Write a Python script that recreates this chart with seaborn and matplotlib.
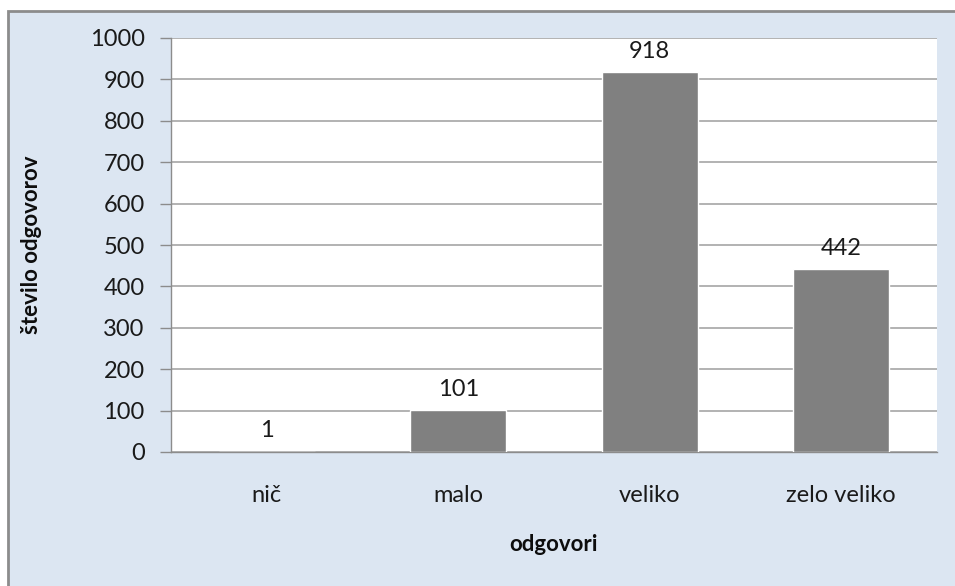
import numpy as np
import pandas as pd
import matplotlib
matplotlib.use("Agg")
import matplotlib.pyplot as plt
from matplotlib.patches import Rectangle
import seaborn as sns

sns.set_style("white")
plt.rcParams['font.family'] = ['Lato', 'DejaVu Sans']

# === data ===
categories = ["nič", "malo", "veliko", "zelo veliko"]
counts = [1, 101, 918, 442]
y_ticks = list(range(0, 1001, 100))

df = pd.DataFrame({"odgovori": categories, "stevilo": counts})

fig = plt.figure(figsize=(9.55, 5.86), dpi=100, facecolor="white")
# light blue chart area with grey frame (behind the axes)
frame = Rectangle((8 / 955, -0.1), 1.2, (586 - 11) / 586 + 0.1,
                  transform=fig.transFigure, facecolor="#dce6f2",
                  edgecolor="#8c8c8c", linewidth=2, zorder=-10)
fig.patches.append(frame)

ax = fig.add_axes([171 / 955, 1 - 452 / 586, (937 - 171) / 955, (452 - 38) / 586])
ax.set_zorder(1)
ax.set_facecolor("white")

sns.barplot(data=df, x="odgovori", y="stevilo", color="#808080",
            saturation=1, width=0.5, ax=ax, zorder=3)

ax.set_ylim(0, 1000)
ax.set_xlim(-0.5, len(categories) - 0.5)
ax.set_yticks(y_ticks)
ax.yaxis.grid(True, color="#a6a6a6", linewidth=1.2, zorder=0)
ax.set_axisbelow(True)

# category ticks sit on the boundaries between groups
ax.set_xticks(np.arange(len(categories)))
ax.set_xticklabels(categories)
ax.set_xticks(np.arange(len(categories) + 1) - 0.5, minor=True)
ax.tick_params(axis="x", which="major", length=0, pad=24, labelsize=17, colors="#1a1a1a")
ax.tick_params(axis="x", which="minor", length=8, width=1, color="#8c8c8c")
ax.tick_params(axis="y", length=8, width=1, color="#8c8c8c", labelsize=17,
               labelcolor="#1a1a1a", pad=11, left=True)

for s in ["top", "right"]:
    ax.spines[s].set_visible(False)
for s in ["left", "bottom"]:
    ax.spines[s].set_color("#8c8c8c")
    ax.spines[s].set_linewidth(1)

for i, v in enumerate(counts):
    ax.text(i, v + 25, str(v), ha="center", va="bottom", fontsize=17, color="#1a1a1a")

ax.set_xlabel("odgovori", fontsize=16, fontweight="bold", color="#0d0d0d", labelpad=20)
ax.set_ylabel("število odgovorov", fontsize=16, fontweight="bold", color="#0d0d0d", labelpad=34)

fig.savefig("out.png", dpi=100, facecolor=fig.get_facecolor())
